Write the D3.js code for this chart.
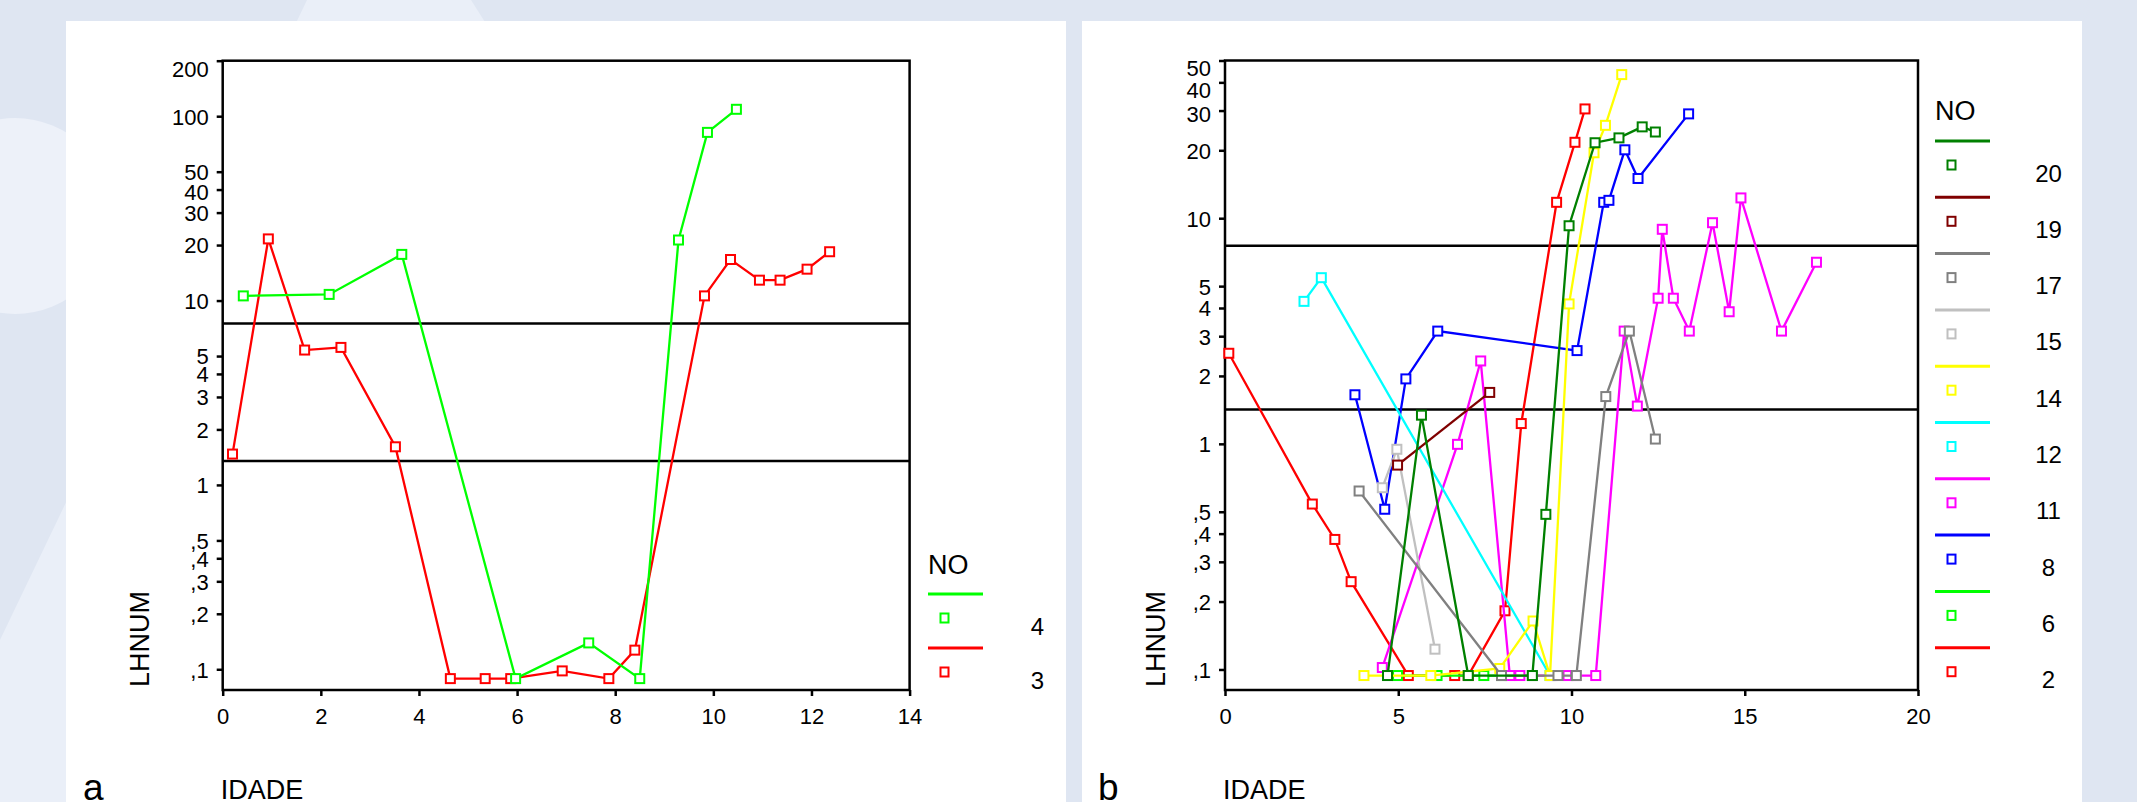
<!DOCTYPE html>
<html>
<head>
<meta charset="utf-8">
<script src="https://cdn.jsdelivr.net/npm/d3@7"></script>
<style>
  body { margin: 0; background: #dfe6f2; }
  svg { display: block; font-family: "Liberation Sans", Arial, sans-serif; }
  .axis path, .axis line { stroke: #000; stroke-width: 2.5; }
  .axis text { fill: #000; font-size: 22px; font-family: "Liberation Sans", Arial, sans-serif; }
</style>
</head>
<body>
<div class="graph"></div>
<script>
// Panel a: LHNUM vs IDADE for NO 4 and 3
const seriesA4 = [[0.42,10.6],[2.17,10.8],[3.65,17.8],[5.97,0.089],[7.46,0.139],[8.50,0.089],[9.29,21.3],[9.88,81.7],[10.47,109]];
const seriesA3 = [[0.20,1.47],[0.93,21.6],[1.67,5.39],[2.41,5.57],[3.52,1.61],[4.64,0.089],[5.35,0.089],[5.87,0.089],[6.92,0.098],[7.87,0.089],[8.40,0.127],[9.82,10.6],[10.35,16.7],[10.94,12.9],[11.36,12.9],[11.91,14.8],[12.37,18.4]];

// Panel b: one array per NO
const seriesB20 = [[4.69,0.094],[5.67,1.34],[7.02,0.094],[8.87,0.094],[9.26,0.487],[9.93,9.26],[10.68,21.6],[11.37,22.7],[12.04,25.4],[12.42,24.1]];
const seriesB19 = [[4.98,0.805],[7.64,1.69]];
const seriesB17 = [[3.87,0.618],[7.98,0.094],[8.87,0.094],[9.61,0.094],[10.14,0.094],[10.99,1.62],[11.67,3.16],[12.42,1.05]];
const seriesB15 = [[4.54,0.639],[4.96,0.946],[6.06,0.123]];
const seriesB14 = [[4.01,0.094],[5.94,0.094],[7.93,0.101],[8.89,0.164],[9.38,0.094],[9.93,4.17],[10.65,19.5],[10.98,25.8],[11.45,43.3]];
const seriesB12 = [[2.28,4.28],[2.78,5.45],[9.38,0.094]];
const seriesB11 = [[4.54,0.102],[6.71,0.995],[7.38,2.33],[8.22,0.094],[8.51,0.094],[9.43,0.094],[9.90,0.094],[10.12,0.094],[10.70,0.094],[11.52,3.16],[11.9,1.47],[12.50,4.42],[12.62,8.93],[12.94,4.42],[13.40,3.16],[14.07,9.55],[14.55,3.85],[14.89,12.3],[16.06,3.16],[17.07,6.38]];
const seriesB8 = [[3.75,1.65],[4.61,0.513],[5.22,1.94],[6.14,3.16],[10.16,2.59],[10.93,11.76],[11.08,12.0],[11.54,20.1],[11.92,15.0],[13.38,29.0]];
const seriesB6 = [[4.98,0.094],[6.12,0.094],[7.47,0.094],[7.98,0.094]];
const seriesB2 = [[0.11,2.52],[2.52,0.541],[3.17,0.377],[3.64,0.245],[5.29,0.094],[6.63,0.094],[7.02,0.094],[8.08,0.182],[8.55,1.23],[9.57,11.76],[10.10,21.7],[10.39,30.5]];

const legendA = ["4", "3"];
const legendB = ["20", "19", "17", "15", "14", "12", "11", "8", "6", "2"];

// tick labels
const yTicksA = [0.1, 0.2, 0.3, 0.4, 0.5, 1, 2, 3, 4, 5, 10, 20, 30, 40, 50, 100, 200];
const yTicksB = [0.1, 0.2, 0.3, 0.4, 0.5, 1, 2, 3, 4, 5, 10, 20, 30, 40, 50];
const xTicksA = [0, 2, 4, 6, 8, 10, 12, 14];
const xTicksB = [0, 5, 10, 15, 20];

// reference band limits
const refA = [1.35, 7.5];
const refB = [1.42, 7.55];

const width = 2137, height = 802;

const svg = d3.select(".graph")
    .append("svg")
        .attr("width", width)
        .attr("height", height);

// background decoration
svg.append("rect").attr("width", width).attr("height", height).attr("fill", "#dfe6f2");
svg.append("polygon")
    .attr("points", "307,0 471,0 980,802 0,802 0,640")
    .attr("fill", "#eaeff8");
svg.append("circle").attr("cx", 15).attr("cy", 216).attr("r", 98).attr("fill", "#edf1f9");

// white panels
svg.append("rect").attr("x", 66).attr("y", 21).attr("width", 1000).attr("height", 790).attr("fill", "#fff");
svg.append("rect").attr("x", 1082).attr("y", 21).attr("width", 1000).attr("height", 790).attr("fill", "#fff");

function fmt(d) {
    return d < 1 ? "," + String(d).slice(2) : String(d);
}

function drawChart(opt) {
    const g = svg.append("g");

    const xScale = d3.scaleLinear()
        .domain(opt.xDomain)
        .range([opt.left, opt.right]);
    const yScale = d3.scaleLog()
        .domain(opt.yDomain)
        .range([opt.bottom, opt.top]);

    // frame
    g.append("rect")
        .attr("x", opt.left).attr("y", opt.top)
        .attr("width", opt.right - opt.left).attr("height", opt.bottom - opt.top)
        .attr("fill", "none").attr("stroke", "#000").attr("stroke-width", 2.5);

    // axes
    const yAxis = g.append("g")
        .attr("class", "axis")
        .attr("transform", `translate(${opt.left},0)`)
        .call(d3.axisLeft(yScale).tickValues(opt.yTicks).tickFormat(fmt).tickSize(6).tickPadding(8));
    yAxis.select(".domain").remove();
    // labels near the top are nudged down as in the original
    yAxis.selectAll("text")
        .attr("y", d => opt.labelShift[d] || 0)
        .attr("dy", "0.36em");

    const xAxis = g.append("g")
        .attr("class", "axis")
        .attr("transform", `translate(0,${opt.bottom})`)
        .call(d3.axisBottom(xScale).tickValues(opt.xTicks).tickSize(6).tickPadding(12));
    xAxis.select(".domain").remove();

    // reference lines
    g.selectAll(".ref")
        .data(opt.ref)
        .join("line")
            .attr("x1", opt.left).attr("x2", opt.right)
            .attr("y1", d => yScale(d)).attr("y2", d => yScale(d))
            .attr("stroke", "#000").attr("stroke-width", 2.5);

    const line = d3.line()
        .x(d => xScale(d[0]))
        .y(d => yScale(d[1]));

    opt.series.forEach(s => {
        g.append("path")
            .attr("d", line(s.data))
            .attr("fill", "none")
            .attr("stroke", s.color)
            .attr("stroke-width", 2.3);
        g.selectAll(null)
            .data(s.data)
            .join("rect")
                .attr("x", d => xScale(d[0]) - 4.5)
                .attr("y", d => yScale(d[1]) - 4.5)
                .attr("width", 9).attr("height", 9)
                .attr("fill", "#fff")
                .attr("stroke", s.color)
                .attr("stroke-width", 2);
    });

    // titles
    g.append("text")
        .attr("transform", `translate(${opt.yLabelX},639) rotate(-90)`)
        .attr("text-anchor", "middle")
        .attr("dominant-baseline", "central")
        .attr("font-size", 27)
        .text("LHNUM");
    g.append("text")
        .attr("x", opt.left - 2).attr("y", 799)
        .attr("font-size", 27)
        .text("IDADE");
    g.append("text")
        .attr("x", opt.letterX).attr("y", 800)
        .attr("font-size", 37)
        .text(opt.letter);

    // legend
    const lg = g.append("g");
    lg.append("text")
        .attr("x", opt.legX).attr("y", opt.legNoY)
        .attr("dominant-baseline", "central")
        .attr("font-size", 27)
        .text("NO");
    opt.series.slice().reverse().forEach((s, i) => {
        const y0 = opt.legY0 + i * opt.legStep;
        lg.append("line")
            .attr("x1", opt.legX).attr("x2", opt.legX + 55)
            .attr("y1", y0).attr("y2", y0)
            .attr("stroke", s.color).attr("stroke-width", 3);
        lg.append("rect")
            .attr("x", opt.legX + 12.5).attr("y", y0 + 19.5)
            .attr("width", 8).attr("height", 9)
            .attr("fill", "#fff").attr("stroke", s.color).attr("stroke-width", 2);
        lg.append("text")
            .attr("x", opt.legTextX).attr("y", y0 + 32)
            .attr("text-anchor", "middle")
            .attr("dominant-baseline", "central")
            .attr("font-size", 24)
            .text(s.name);
    });
}

const colorsB = {"20": "#008000", "19": "#800000", "17": "#808080", "15": "#c0c0c0", "14": "#ffff00",
                 "12": "#00ffff", "11": "#ff00ff", "8": "#0000ff", "6": "#00ff00", "2": "#ff0000"};
const dataB = {"20": seriesB20, "19": seriesB19, "17": seriesB17, "15": seriesB15, "14": seriesB14,
               "12": seriesB12, "11": seriesB11, "8": seriesB8, "6": seriesB6, "2": seriesB2};

drawChart({
    left: 222.7, right: 909.6, top: 60.7, bottom: 690,
    xDomain: [0, 14], yDomain: [0.0772, 200],
    xTicks: xTicksA, yTicks: yTicksA, ref: refA, labelShift: {200: 7.5, 40: 2},
    series: [
        {name: legendA[1], color: "#ff0000", data: seriesA3},
        {name: legendA[0], color: "#00ff00", data: seriesA4}
    ],
    yLabelX: 140, letter: "a", letterX: 83,
    legX: 928, legNoY: 565, legY0: 594, legStep: 54, legTextX: 1037.5
});

drawChart({
    left: 1225, right: 1918, top: 60.5, bottom: 690,
    xDomain: [0, 20], yDomain: [0.0811, 50],
    xTicks: xTicksB, yTicks: yTicksB, ref: refB, labelShift: {50: 7.5, 40: 7, 30: 3},
    series: legendB.slice().reverse().map(k => ({name: k, color: colorsB[k], data: dataB[k]})),
    yLabelX: 1156, letter: "b", letterX: 1098,
    legX: 1935, legNoY: 111, legY0: 141, legStep: 56.3, legTextX: 2048.5
});
</script>
</body>
</html>
